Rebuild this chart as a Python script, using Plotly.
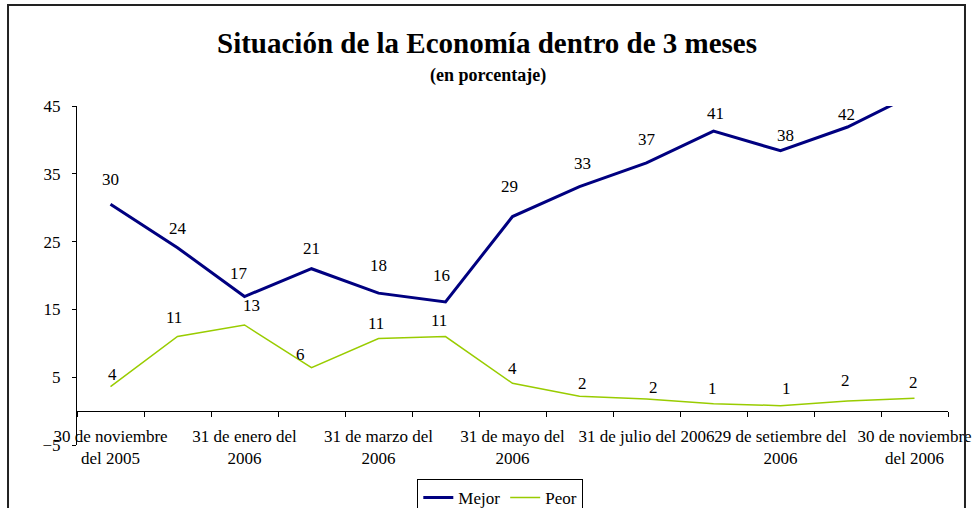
import plotly.graph_objects as go

# ---- data ----
categories = [
    "30 nov 2005", "dic 2005", "31 ene 2006", "feb 2006", "31 mar 2006", "abr 2006",
    "31 may 2006", "jun 2006", "31 jul 2006", "ago 2006", "29 set 2006", "oct 2006", "30 nov 2006",
]
tick_labels = [
    "30 de noviembre<br>del 2005", "31 de enero del<br>2006", "31 de marzo del<br>2006",
    "31 de mayo del<br>2006", "31 de julio del 2006", "29 de setiembre del<br>2006",
    "30 de noviembre<br>del 2006",
]
series_names = ["Mejor", "Peor"]
mejor = [30.5, 24.1, 16.9, 21.0, 17.4, 16.1, 28.7, 33.1, 36.6, 41.3, 38.4, 41.9, 46.8]
peor = [3.6, 11.0, 12.7, 6.4, 10.7, 11.0, 4.1, 2.2, 1.8, 1.1, 0.8, 1.5, 1.9]
mejor_labels = ["30", "24", "17", "21", "18", "16", "29", "33", "37", "41", "38", "42", "47"]
peor_labels = ["4", "11", "13", "6", "11", "11", "4", "2", "2", "1", "1", "2", "2"]

# ---- label placement (styling, px) ----
mejor_dy = [25, 19, 23, 20, 28, 26, 30, 23, 23, 18, 15, 13, 4]
mejor_dx = [0, 0, -6, 0, 0, -4, -3, 3, 0, 2, 5, -1, -14]
peor_dy = [12, 19, 19, 13, 15, 16, 15, 13, 11, 15, 17, 20, 16]
peor_dx = [2, -4, 7, -11, -3, -7, 0, 3, 7, -1, 6, -2, -1]

FONT = "Liberation Serif, Times New Roman, serif"
x_idx = list(range(len(categories)))

fig = go.Figure()
fig.add_trace(go.Scatter(x=x_idx, y=mejor, mode="lines", name=series_names[0],
                         line=dict(color="#000080", width=3), hoverinfo="skip"))
fig.add_trace(go.Scatter(x=x_idx, y=peor, mode="lines", name=series_names[1],
                         line=dict(color="#99CC00", width=1.5), hoverinfo="skip"))

annotations = []
for vals, labs, dxs, dys in [(mejor, mejor_labels, mejor_dx, mejor_dy),
                             (peor, peor_labels, peor_dx, peor_dy)]:
    for i, (v, t) in enumerate(zip(vals, labs)):
        annotations.append(dict(x=x_idx[i], y=v, xref="x", yref="y", text=t,
                                showarrow=False, xanchor="center", yanchor="middle",
                                xshift=dxs[i], yshift=dys[i],
                                font=dict(family=FONT, size=17, color="black")))

annotations.append(dict(text="<b>Situación de la Economía dentro de 3 meses</b>",
                        xref="paper", yref="paper", x=0.4707, y=1.186,
                        xanchor="center", yanchor="middle", showarrow=False,
                        font=dict(family=FONT, size=29, color="black")))
annotations.append(dict(text="<b>(en porcentaje)</b>",
                        xref="paper", yref="paper", x=0.472, y=1.0914,
                        xanchor="center", yanchor="middle", showarrow=False,
                        font=dict(family=FONT, size=18, color="black")))

fig.update_layout(
    width=975, height=508,
    margin=dict(l=77, r=27, t=106, b=63, autoexpand=False),
    paper_bgcolor="white", plot_bgcolor="white",
    font=dict(family=FONT, size=17, color="black"),
    showlegend=True,
    legend=dict(orientation="h", x=0.486, xanchor="center", y=-0.1003, yanchor="top",
                bordercolor="black", borderwidth=1, bgcolor="white",
                font=dict(family=FONT, size=17, color="black")),
    annotations=annotations,
    shapes=[dict(type="rect", xref="paper", yref="paper",
                 x0=-0.0792, x1=1.0195, y0=-0.25, y1=1.298,
                 line=dict(color="#222222", width=2), fillcolor="rgba(0,0,0,0)")],
    xaxis=dict(range=[-0.5, 12.5], anchor="free", position=0.1,
               showline=True, linecolor="black", linewidth=1,
               showgrid=False, zeroline=False,
               tickmode="array", tickvals=x_idx[::2], ticktext=tick_labels,
               ticks="", ticklabelstandoff=9, tickangle=0,
               tickfont=dict(family=FONT, size=17, color="black"),
               minor=dict(tickmode="linear", tick0=-0.5, dtick=1, ticks="outside",
                          ticklen=5, tickcolor="black", showgrid=False)),
    yaxis=dict(range=[-5, 45], tick0=-5, dtick=10, showline=True, linecolor="black",
               linewidth=1, showgrid=False, zeroline=False, ticks="outside", ticklen=4,
               tickcolor="black", ticklabelstandoff=8,
               tickfont=dict(family=FONT, size=17, color="black")),
)

fig.write_html("out.html", config={"displayModeBar": False},
               post_script="document.body.style.margin='0';document.body.style.overflow='hidden';")
